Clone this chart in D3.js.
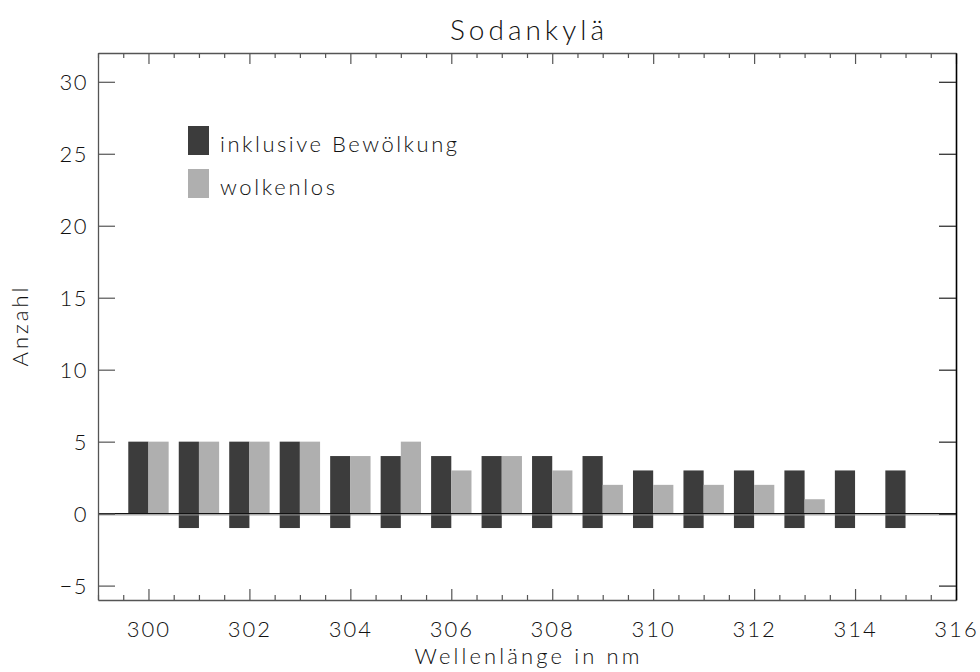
<!DOCTYPE html>
<html>
<head>
<meta charset="utf-8">
<script src="https://cdn.jsdelivr.net/npm/d3@7"></script>
<style>
  html, body { margin: 0; padding: 0; background: #fff; }
  text { font-family: "Lato", "DejaVu Sans", sans-serif; font-weight: 300; fill: #111; }
</style>
</head>
<body>
<svg id="chart" width="980" height="672"></svg>
<script>
// ---- data ----
const wavelengths = [300, 301, 302, 303, 304, 305, 306, 307, 308, 309, 310, 311, 312, 313, 314, 315];
const cloudyPos   = [5, 5, 5, 5, 4, 4, 4, 4, 4, 4, 3, 3, 3, 3, 3, 3];
const cloudyNeg   = [0, -1, -1, -1, -1, -1, -1, -1, -1, -1, -1, -1, -1, -1, -1, -1];
const clearVals   = [5, 5, 5, 5, 4, 5, 3, 4, 3, 2, 2, 2, 2, 1, 0, 0];
const xMajorTicks = [300, 302, 304, 306, 308, 310, 312, 314, 316];
const yTicks      = [-5, 0, 5, 10, 15, 20, 25, 30];
const seriesNames = ["inklusive Bewölkung", "wolkenlos"];
const title = "Sodankylä";
const xLabel = "Wellenlänge in nm";
const yLabel = "Anzahl";

const colDark = "#3c3c3c", colLight = "#afafaf";

const svg = d3.select("#chart");
const L = 98, R = 956, T = 53, B = 600;
const x = d3.scaleLinear().domain([299, 316]).range([L, R]);
const y = d3.scaleLinear().domain([-6, 32]).range([B, T]);

// bars
const g = svg.append("g");
g.selectAll("rect.dark").data(wavelengths).join("rect")
  .attr("class", "dark")
  .attr("x", d => x(d - 0.4))
  .attr("width", d => x(d) - x(d - 0.4))
  .attr("y", (d, i) => y(cloudyPos[i]))
  .attr("height", (d, i) => y(cloudyNeg[i]) - y(cloudyPos[i]))
  .attr("fill", colDark);
g.selectAll("rect.light").data(wavelengths).join("rect")
  .attr("class", "light")
  .attr("x", d => x(d))
  .attr("width", d => x(d + 0.4) - x(d))
  .attr("y", (d, i) => y(clearVals[i]))
  .attr("height", (d, i) => y(0) - y(clearVals[i]))
  .attr("fill", colLight);

// zero line
svg.append("line").attr("x1", L).attr("x2", R).attr("y1", y(0)).attr("y2", y(0))
  .attr("stroke", "#111").attr("stroke-width", 1.3);
svg.append("line").attr("x1", L).attr("x2", R).attr("y1", y(0) + 1.3).attr("y2", y(0) + 1.3)
  .attr("stroke", "#999").attr("stroke-width", 1);

// axes
const minorTicks = d3.range(299, 316.01, 0.5).filter(v => xMajorTicks.indexOf(v) < 0);
function styleAxis(sel) {
  sel.selectAll("path.domain").attr("stroke", "#555").attr("stroke-width", 1.3);
  sel.selectAll(".tick line").attr("stroke", "#555").attr("stroke-width", 1.2);
}
const fmt = d3.format("d");
// bottom major
const bx = svg.append("g").attr("transform", `translate(0,${B})`)
  .call(d3.axisBottom(x).tickValues(xMajorTicks).tickSize(-11).tickSizeOuter(0).tickPadding(0).tickFormat(fmt));
styleAxis(bx);
bx.selectAll(".tick text").attr("y", 37).attr("dy", 0)
  .style("font-size", "22px").style("letter-spacing", "2px").attr("fill", "#111");
// bottom minor
svg.append("g").attr("transform", `translate(0,${B})`)
  .call(d3.axisBottom(x).tickValues(minorTicks).tickSize(-5).tickSizeOuter(0).tickFormat(""))
  .call(s => { s.select("path.domain").remove(); s.selectAll(".tick line").attr("stroke", "#555").attr("stroke-width", 1.2); });
// top major + minor
const tx = svg.append("g").attr("transform", `translate(0,${T})`)
  .call(d3.axisTop(x).tickValues(xMajorTicks).tickSize(-11).tickSizeOuter(0).tickFormat(""));
styleAxis(tx);
svg.append("g").attr("transform", `translate(0,${T})`)
  .call(d3.axisTop(x).tickValues(minorTicks).tickSize(-5).tickSizeOuter(0).tickFormat(""))
  .call(s => { s.select("path.domain").remove(); s.selectAll(".tick line").attr("stroke", "#555").attr("stroke-width", 1.2); });
// left
const ly = svg.append("g").attr("transform", `translate(${L},0)`)
  .call(d3.axisLeft(y).tickValues(yTicks).tickSize(-17).tickSizeOuter(0).tickPadding(0).tickFormat(fmt));
styleAxis(ly);
ly.selectAll(".tick text").attr("x", -10).attr("dy", 0).attr("y", 8)
  .style("font-size", "22px").style("letter-spacing", "1.5px").attr("fill", "#111")
  .text(d => d < 0 ? "\u2212" + Math.abs(d) : d);
// right
const ry = svg.append("g").attr("transform", `translate(${R},0)`)
  .call(d3.axisRight(y).tickValues(yTicks).tickSize(-17).tickSizeOuter(0).tickFormat(""));
styleAxis(ry);
ry.selectAll("path.domain").attr("stroke", "#000").attr("stroke-width", 1.6);
ry.selectAll(".tick line").attr("stroke", "#222");

// title & labels
svg.append("text").attr("x", (L + R) / 2).attr("y", 40).attr("text-anchor", "middle")
  .style("font-size", "28px").attr("textLength", 154).attr("lengthAdjust", "spacing").text(title);
svg.append("text").attr("x", (L + R) / 2).attr("y", 664).attr("text-anchor", "middle")
  .style("font-size", "22px").attr("textLength", 225).attr("lengthAdjust", "spacing").text(xLabel);
svg.append("text").attr("transform", `translate(28,327) rotate(-90)`).attr("text-anchor", "middle")
  .style("font-size", "22px").attr("textLength", 79).attr("lengthAdjust", "spacing").text(yLabel);

// legend
const leg = svg.append("g");
const legColors = [colDark, colLight];
const legLens = [237, 115];
seriesNames.forEach((name, i) => {
  const yy = 126 + i * 43;
  leg.append("rect").attr("x", 188).attr("y", yy).attr("width", 21).attr("height", 29).attr("fill", legColors[i]);
  leg.append("text").attr("x", 220).attr("y", yy + 26).style("font-size", "22px")
    .attr("textLength", legLens[i]).attr("lengthAdjust", "spacing").text(name);
});
</script>
</body>
</html>
